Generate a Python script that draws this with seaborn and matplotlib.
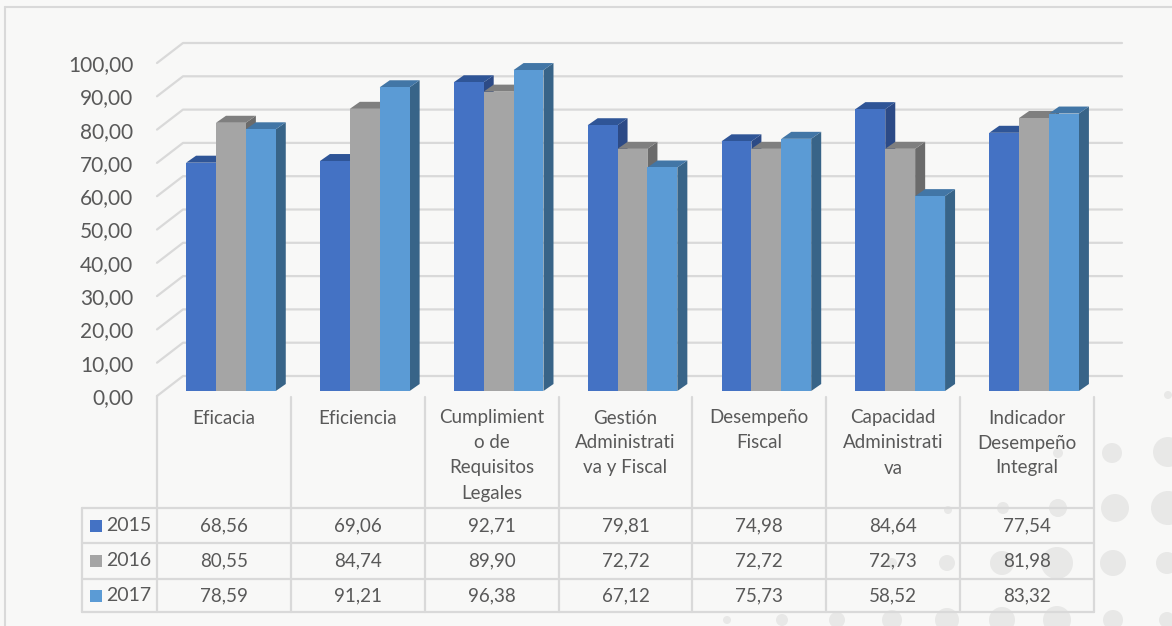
import matplotlib
matplotlib.use("Agg")
import matplotlib.pyplot as plt
from matplotlib.patches import Polygon, Circle, Rectangle
from matplotlib.lines import Line2D
from matplotlib.ticker import FuncFormatter
from matplotlib.transforms import ScaledTranslation, IdentityTransform
import seaborn as sns
import pandas as pd

# ---- data -------------------------------------------------------------
categories = [
    "Eficacia",
    "Eficiencia",
    "Cumplimient\no de\nRequisitos\nLegales",
    "Gestión\nAdministrati\nva y Fiscal",
    "Desempeño\nFiscal",
    "Capacidad\nAdministrati\nva",
    "Indicador\nDesempeño\nIntegral",
]
years = ["2015", "2016", "2017"]
values_2015 = [68.56, 69.06, 92.71, 79.81, 74.98, 84.64, 77.54]
values_2016 = [80.55, 84.74, 89.90, 72.72, 72.72, 72.73, 81.98]
values_2017 = [78.59, 91.21, 96.38, 67.12, 75.73, 58.52, 83.32]
y_ticks = [0, 10, 20, 30, 40, 50, 60, 70, 80, 90, 100]

front_colors = ["#4472C4", "#A5A5A5", "#5B9BD5"]
top_colors = ["#2F5597", "#7F7F7F", "#4276A6"]
side_colors = ["#2C4A86", "#6B6B6B", "#386488"]

series = [values_2015, values_2016, values_2017]
df = pd.DataFrame({
    "categoria": [c for _ in years for c in categories],
    "anio": [y for y in years for _ in categories],
    "valor": [v for s in series for v in s],
})

# ---- figure -----------------------------------------------------------
W, H = 1172, 626
DPI = 100
BG = "#F8F8F7"
GRID = "#D9D9D9"
TXT = "#595959"
FONT = ["Lato", "DejaVu Sans"]

sns.set_theme(style="white")
plt.rcParams["font.family"] = FONT

fig = plt.figure(figsize=(W / DPI, H / DPI), dpi=DPI)
fig.patch.set_facecolor(BG)


def fx(x):
    return x / W


def fy(y):
    return 1 - y / H


# plotting plane: x -0.5..6.5 over 157..1094 px, y 0..100 over 396..63 px
X0, X1 = 157, 1094
Y0, Y100 = 396, 63
ax = fig.add_axes([fx(X0), fy(Y0), fx(X1 - X0), (Y0 - Y100) / H])
ax.set_facecolor("none")
for s in ax.spines.values():
    s.set_visible(False)

sns.barplot(data=df, x="categoria", y="valor", hue="anio", order=categories,
            hue_order=years, palette=front_colors, width=0.67, saturation=1,
            legend=False, ax=ax, edgecolor="none", linewidth=0, errorbar=None)

ax.set_xlim(-0.5, len(categories) - 0.5)
ax.set_ylim(0, 100)
ax.set_yticks(y_ticks)
ax.yaxis.set_major_formatter(FuncFormatter(lambda v, _: f"{v:.2f}".replace(".", ",")))
ax.tick_params(axis="y", length=0, pad=17, labelsize=15, labelcolor=TXT)
ax.set_xticks([])
ax.set_xlabel("")
ax.set_ylabel("")

ident = IdentityTransform()

# ---- outer frame ----------------------------------------------------------
fig.add_artist(Line2D([fx(5), fx(W)], [fy(7), fy(7)], transform=fig.transFigure,
                      color=GRID, lw=1.5, zorder=0))
fig.add_artist(Line2D([fx(5), fx(5)], [fy(7), fy(H)], transform=fig.transFigure,
                      color=GRID, lw=1.5, zorder=0))

# ---- decorative dots (pixel coordinates, y from top) ----------------------
dots = [
    (1168, 395, 4), (1112, 453, 10), (1168, 452, 15), (1058, 453, 5),
    (1115, 508, 14), (1168, 508, 17), (1058, 508, 9), (1003, 508, 6), (948, 510, 4),
    (1113, 563, 13), (1167, 563, 11), (1057, 563, 16), (1002, 563, 12),
    (947, 563, 8), (892, 563, 5),
    (1113, 620, 10), (1167, 620, 8), (1057, 620, 14), (1002, 620, 13),
    (947, 620, 12), (892, 620, 10), (837, 620, 8), (782, 620, 6), (727, 620, 4),
]
for (cx, cy, r) in dots:
    fig.add_artist(Circle((cx, H - cy), r, transform=ident,
                          facecolor="#E8E8E7", edgecolor="none", zorder=0))

# ---- wall gridlines with depth -------------------------------------------
DX, DY = 26, 20      # wall depth in px
GX_END = 1122
for v in y_ticks:
    _, yd = ax.transData.transform((0, v))
    xl = X0
    ax.add_line(Line2D([xl, xl + DX, GX_END], [yd, yd + DY, yd + DY],
                       transform=ident, color=GRID, lw=1.6, clip_on=False, zorder=0.5))

# ---- 3D bars ----------------------------------------------------------------
OX, OY = 7, 5        # bar offset towards the wall
BDX, BDY = 10, 7     # bar depth
shift = ScaledTranslation(OX / DPI, OY / DPI, fig.dpi_scale_trans)
for k, cont in enumerate(ax.containers):
    for bar in cont.patches:
        x = bar.get_x()
        w = bar.get_width()
        h = bar.get_height()
        (px0, py0) = ax.transData.transform((x, 0))
        (px1, py1) = ax.transData.transform((x + w, h))
        px0 += OX; px1 += OX; py0 += OY; py1 += OY
        bar.set_transform(ax.transData + shift)
        bar.set_zorder(3 + 2 * k)
        bar.set_clip_on(False)
        side = Polygon([(px1, py0), (px1, py1), (px1 + BDX, py1 + BDY), (px1 + BDX, py0 + BDY)],
                       closed=True, transform=ident, facecolor=side_colors[k],
                       edgecolor="none", zorder=2 + 2 * k, clip_on=False)
        top = Polygon([(px0, py1), (px1, py1), (px1 + BDX, py1 + BDY), (px0 + BDX, py1 + BDY)],
                      closed=True, transform=ident, facecolor=top_colors[k],
                      edgecolor="none", zorder=2 + 2 * k, clip_on=False)
        ax.add_patch(side)
        ax.add_patch(top)

# ---- data table -------------------------------------------------------------
col_w = (X1 - X0) / len(categories)
col_edges = [X0 + col_w * i for i in range(len(categories) + 1)]
row_lines = [508, 543, 579, 612]
row_centers = [(row_lines[i] + row_lines[i + 1]) / 2 for i in range(3)]
LEFT = 82


def hline(x0, x1, y):
    fig.add_artist(Line2D([fx(x0), fx(x1)], [fy(y), fy(y)], transform=fig.transFigure,
                          color=GRID, lw=1.6, zorder=1))


def vline(x, y0, y1):
    fig.add_artist(Line2D([fx(x), fx(x)], [fy(y0), fy(y1)], transform=fig.transFigure,
                          color=GRID, lw=1.6, zorder=1))


for y in row_lines:
    hline(LEFT, X1, y)
vline(LEFT, row_lines[0], row_lines[-1])
vline(X0, Y0, row_lines[-1])
for x in col_edges[1:]:
    vline(x, 397, row_lines[-1])

# header: category names
for i, cat in enumerate(categories):
    cx = (col_edges[i] + col_edges[i + 1]) / 2
    for j, line in enumerate(cat.split("\n")):
        fig.text(fx(cx), fy(418 + 25 * j), line, ha="center", va="center",
                 fontsize=13.5, color=TXT, zorder=2)

# rows: legend key + year + values
for r, (yr, vals) in enumerate(zip(years, series)):
    cy = row_centers[r]
    fig.add_artist(Rectangle((fx(90), fy(cy + 6)), 12 / W, 12 / H, transform=fig.transFigure,
                             facecolor=front_colors[r], edgecolor="none", zorder=2))
    fig.text(fx(106), fy(cy), yr, ha="left", va="center", fontsize=14, color=TXT, zorder=2)
    for i, v in enumerate(vals):
        cx = (col_edges[i] + col_edges[i + 1]) / 2
        fig.text(fx(cx), fy(cy), f"{v:.2f}".replace(".", ","), ha="center", va="center",
                 fontsize=13.5, color=TXT, zorder=2)

fig.savefig("out.png", dpi=DPI, facecolor=BG)
